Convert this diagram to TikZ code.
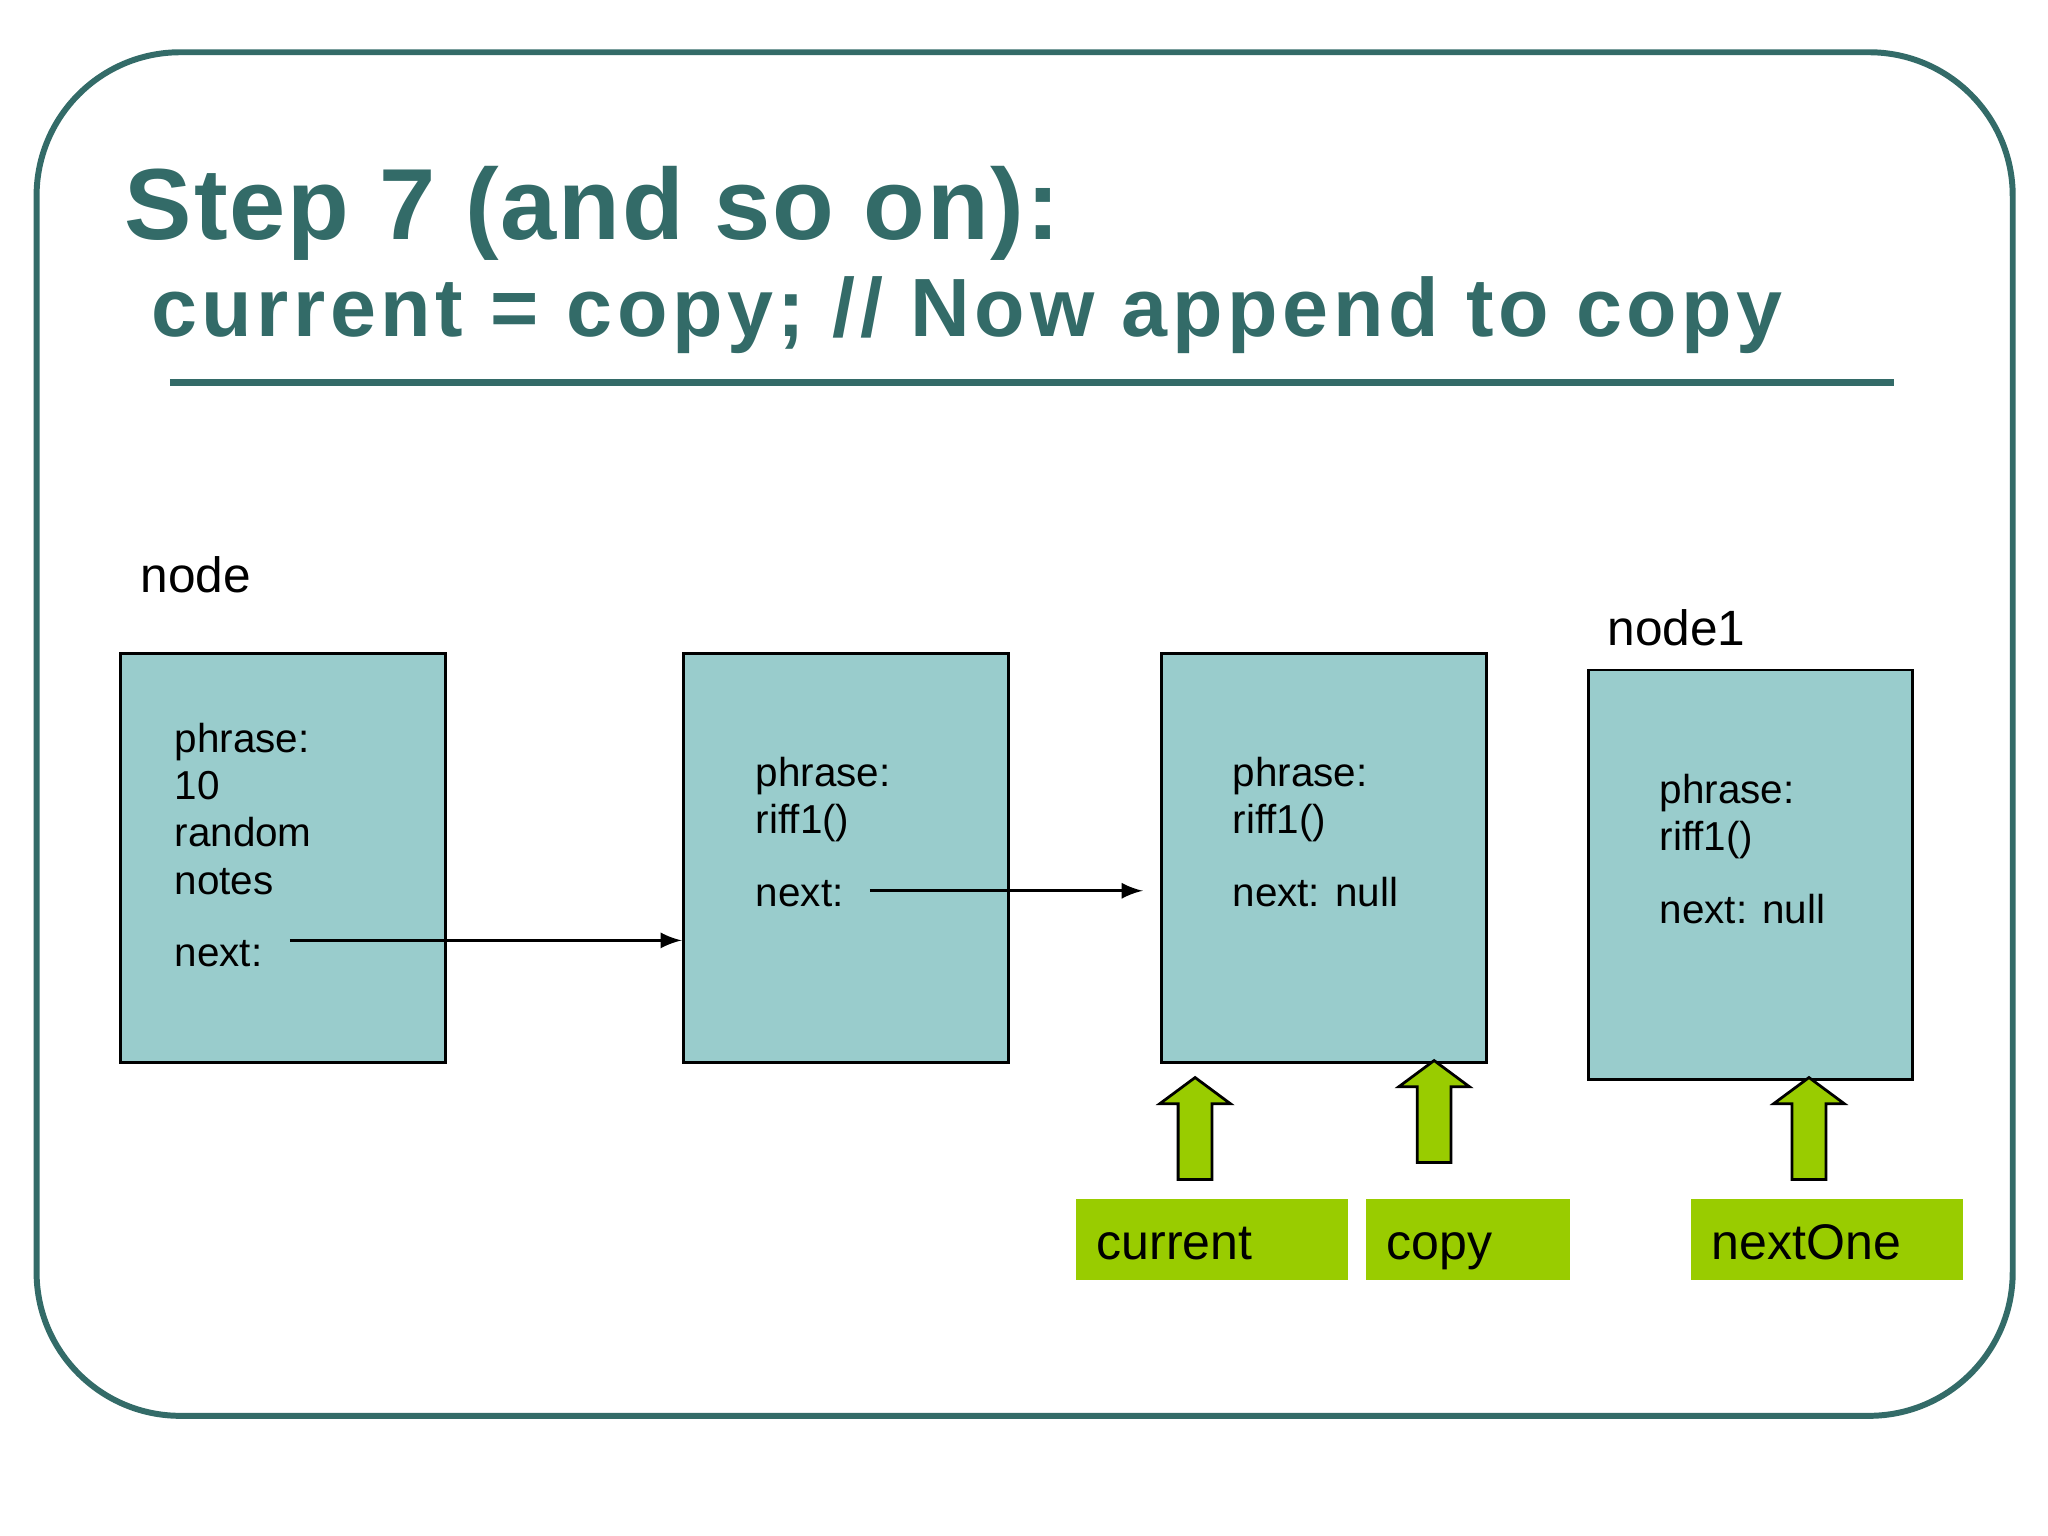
\documentclass[tikz,border=0pt]{standalone}
\usepackage{fontspec}
\setmainfont{Liberation Sans}
\usetikzlibrary{positioning}
\definecolor{teal}{HTML}{336B68}
\definecolor{boxfill}{HTML}{99CCCC}
\definecolor{lime}{HTML}{99CC00}
\tikzset{
  cell/.style={draw, fill=boxfill, line width=0.6pt, inner sep=0pt},
  txt/.style={anchor=base west, inner sep=0pt, font=\fontsize{8.8pt}{10pt}\selectfont},
  head/.style={anchor=base west, inner sep=0pt, font=\fontsize{10.8pt}{12pt}\selectfont},
  tag/.style={fill=lime, inner sep=0pt, anchor=north west},
  tagtxt/.style={anchor=base west, inner sep=0pt, font=\fontsize{10.9pt}{13pt}\selectfont},
  ptr/.style={-latex, line width=0.6pt},
  fat/.style={draw, fill=lime, line width=0.6pt}
}
\begin{document}
\begin{tikzpicture}[x=0.01cm, y=-0.01cm]
\useasboundingbox (0,0) rectangle (1568,1176);
\draw[teal, line width=1.3pt, rounded corners=1.1cm] (28,40) rectangle (1541,1084);
\node (title)[anchor=base west, inner sep=0pt, text=teal, font=\fontsize{22pt}{24pt}\bfseries\selectfont\addfontfeature{LetterSpace=1.8}] at (95,183) {Step 7 (and so on):};
\node (sub)[anchor=base west, inner sep=0pt, text=teal, font=\fontsize{18pt}{20pt}\bfseries\selectfont\addfontfeature{LetterSpace=5.5}] at (115,258) {current = copy; // Now append to copy};
\draw[teal, line width=1.5pt] (130,293) -- (1450,293);
% list cells
\node (n1)[cell, minimum width=2.49cm, minimum height=3.13cm, anchor=north west] at (91,499) {};
\node (n2)[cell, minimum width=2.49cm, minimum height=3.13cm, anchor=north west] at (522,499) {};
\node (n3)[cell, minimum width=2.49cm, minimum height=3.13cm, anchor=north west] at (888,499) {};
\node (n4)[cell, minimum width=2.48cm, minimum height=3.13cm, anchor=north west] at (1215,512) {};
\node (lnode)[head] at (107,454) {node};
\node (lnode1)[head] at (1230,494) {node1};
% contents
\node (t1a)[txt] at (133,576) {phrase:};
\node (t1b)[txt] at (133,612) {10};
\node (t1c)[txt] at (133,648) {random};
\node (t1d)[txt] at (133,685) {notes};
\node (t1e)[txt] at (133,740) {next:};
\node (t2a)[txt] at (578,602) {phrase:};
\node (t2b)[txt] at (578,638) {riff1()};
\node (t2c)[txt] at (578,694) {next:};
\node (t3a)[txt] at (943,602) {phrase:};
\node (t3b)[txt] at (943,638) {riff1()};
\node (t3c)[txt] at (943,694) {next: null};
\node (t4a)[txt] at (1270,615) {phrase:};
\node (t4b)[txt] at (1270,651) {riff1()};
\node (t4c)[txt] at (1270,707) {next: null};
\coordinate (p1) at (222,720);
\coordinate (p2) at (666,682);
\draw[ptr] (p1) -- (p1 -| n2.west);
\draw[ptr] (p2) -- (875,682);
% pointer tags
\node (cur)[tag, minimum width=2.08cm, minimum height=0.62cm] at (823,917) {};
\node (cpy)[tag, minimum width=1.56cm, minimum height=0.62cm] at (1045,917) {};
\node (nxt)[tag, minimum width=2.08cm, minimum height=0.62cm] at (1294,917) {};
\node (curt)[tagtxt] at (839,964) {current};
\node (cpyt)[tagtxt] at (1061,964) {copy};
\node (nxtt)[tagtxt] at (1310,964) {nextOne};
\foreach \cx/\tip in {915/825, 1098/812, 1385/825}
  \draw[fat] (\cx-13,\tip+78) -- (\cx-13,\tip+20) -- (\cx-27,\tip+20) -- (\cx,\tip)
    -- (\cx+27,\tip+20) -- (\cx+13,\tip+20) -- (\cx+13,\tip+78) -- cycle;
\end{tikzpicture}
\end{document}
